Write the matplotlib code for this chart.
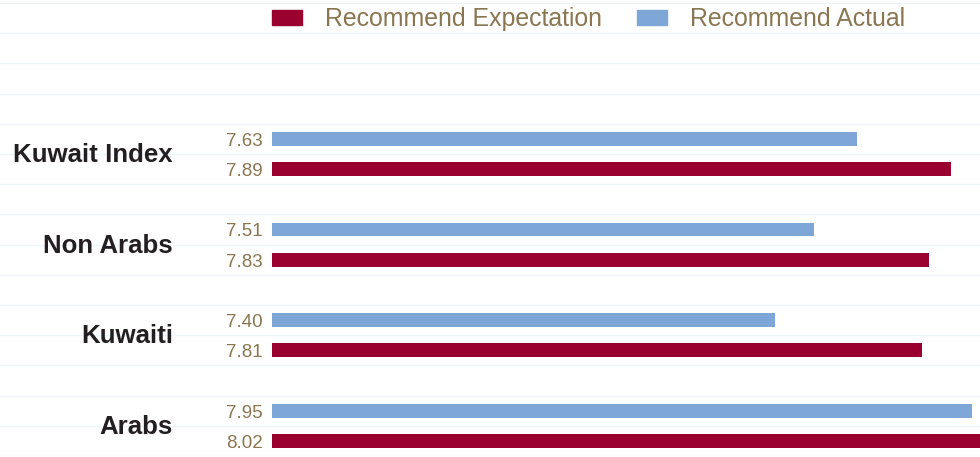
#!/usr/bin/env python3
"""Recommend expectation vs actual, horizontal paired bars."""

import matplotlib.pyplot as plt
import numpy as np
from matplotlib.patches import Patch

categories = ["Kuwait Index", "Non Arabs", "Kuwaiti", "Arabs"]
expectation = [7.89, 7.83, 7.81, 8.02]
actual = [7.63, 7.51, 7.40, 7.95]
series_names = ["Recommend Expectation", "Recommend Actual"]

BASE = 6.0
RED = "#990030"
BLUE = "#7ea7d8"
BROWN = "#8a7650"
DARK = "#231f20"
GRID = "#eef4f9"
FONT = ["Liberation Sans", "DejaVu Sans"]

W, H = 980, 457
fig = plt.figure(figsize=(W / 100, H / 100), dpi=100)
ax = fig.add_axes([0, 1 / H, 1, 453 / H])

# 15 equal rows: legend row, 3 empty, then (actual, expectation, gap) per group
n_rows = 15
scale = 359.0  # px per unit
ax.set_xlim(BASE - 272 / scale, BASE + 708 / scale)
ax.set_ylim(n_rows, 0)

idx = np.arange(len(categories))
y_actual = 4.5 + 3 * idx
y_expect = 5.5 + 3 * idx
y_label = 5.0 + 3 * idx

bar_h = 0.46
exp_arr = np.array(expectation)
act_arr = np.array(actual)
ax.barh(y_actual, act_arr - BASE, left=BASE, height=bar_h, color=BLUE, zorder=3)
ax.barh(y_expect, exp_arr - BASE, left=BASE, height=bar_h, color=RED, zorder=3)

# value labels to the left of each bar
for y, v in list(zip(y_actual, actual)) + list(zip(y_expect, expectation)):
    ax.annotate(f"{v:.2f}", (BASE, y), xytext=(-9, -7), textcoords="offset pixels",
                ha="right", va="baseline", fontsize=13.5, color=BROWN, family=FONT)

# category labels
for y, name in zip(y_label, categories):
    ax.annotate(name, (BASE, y), xytext=(-99, -8), textcoords="offset pixels",
                ha="right", va="baseline", fontsize=18.6, color=DARK,
                family=FONT, weight="bold")

ax.set_yticks(np.arange(n_rows + 1))
ax.set_xticks([])
ax.yaxis.grid(True, color=GRID, linewidth=1.0, zorder=0)
ax.tick_params(left=False, labelleft=False)
for spine in ax.spines.values():
    spine.set_visible(False)

handles = [Patch(color=RED), Patch(color=BLUE)]
leg = fig.legend(handles, series_names, loc="center left",
                 bbox_to_anchor=(272 / W, 1 - 19 / H), ncol=2, frameon=False,
                 borderaxespad=0, borderpad=0,
                 handlelength=1.2, handleheight=0.57, handletextpad=0.93,
                 columnspacing=1.4, prop={"family": FONT, "size": 17.9})
for t in leg.get_texts():
    t.set_color(BROWN)

fig.savefig("out.png", dpi=100)
